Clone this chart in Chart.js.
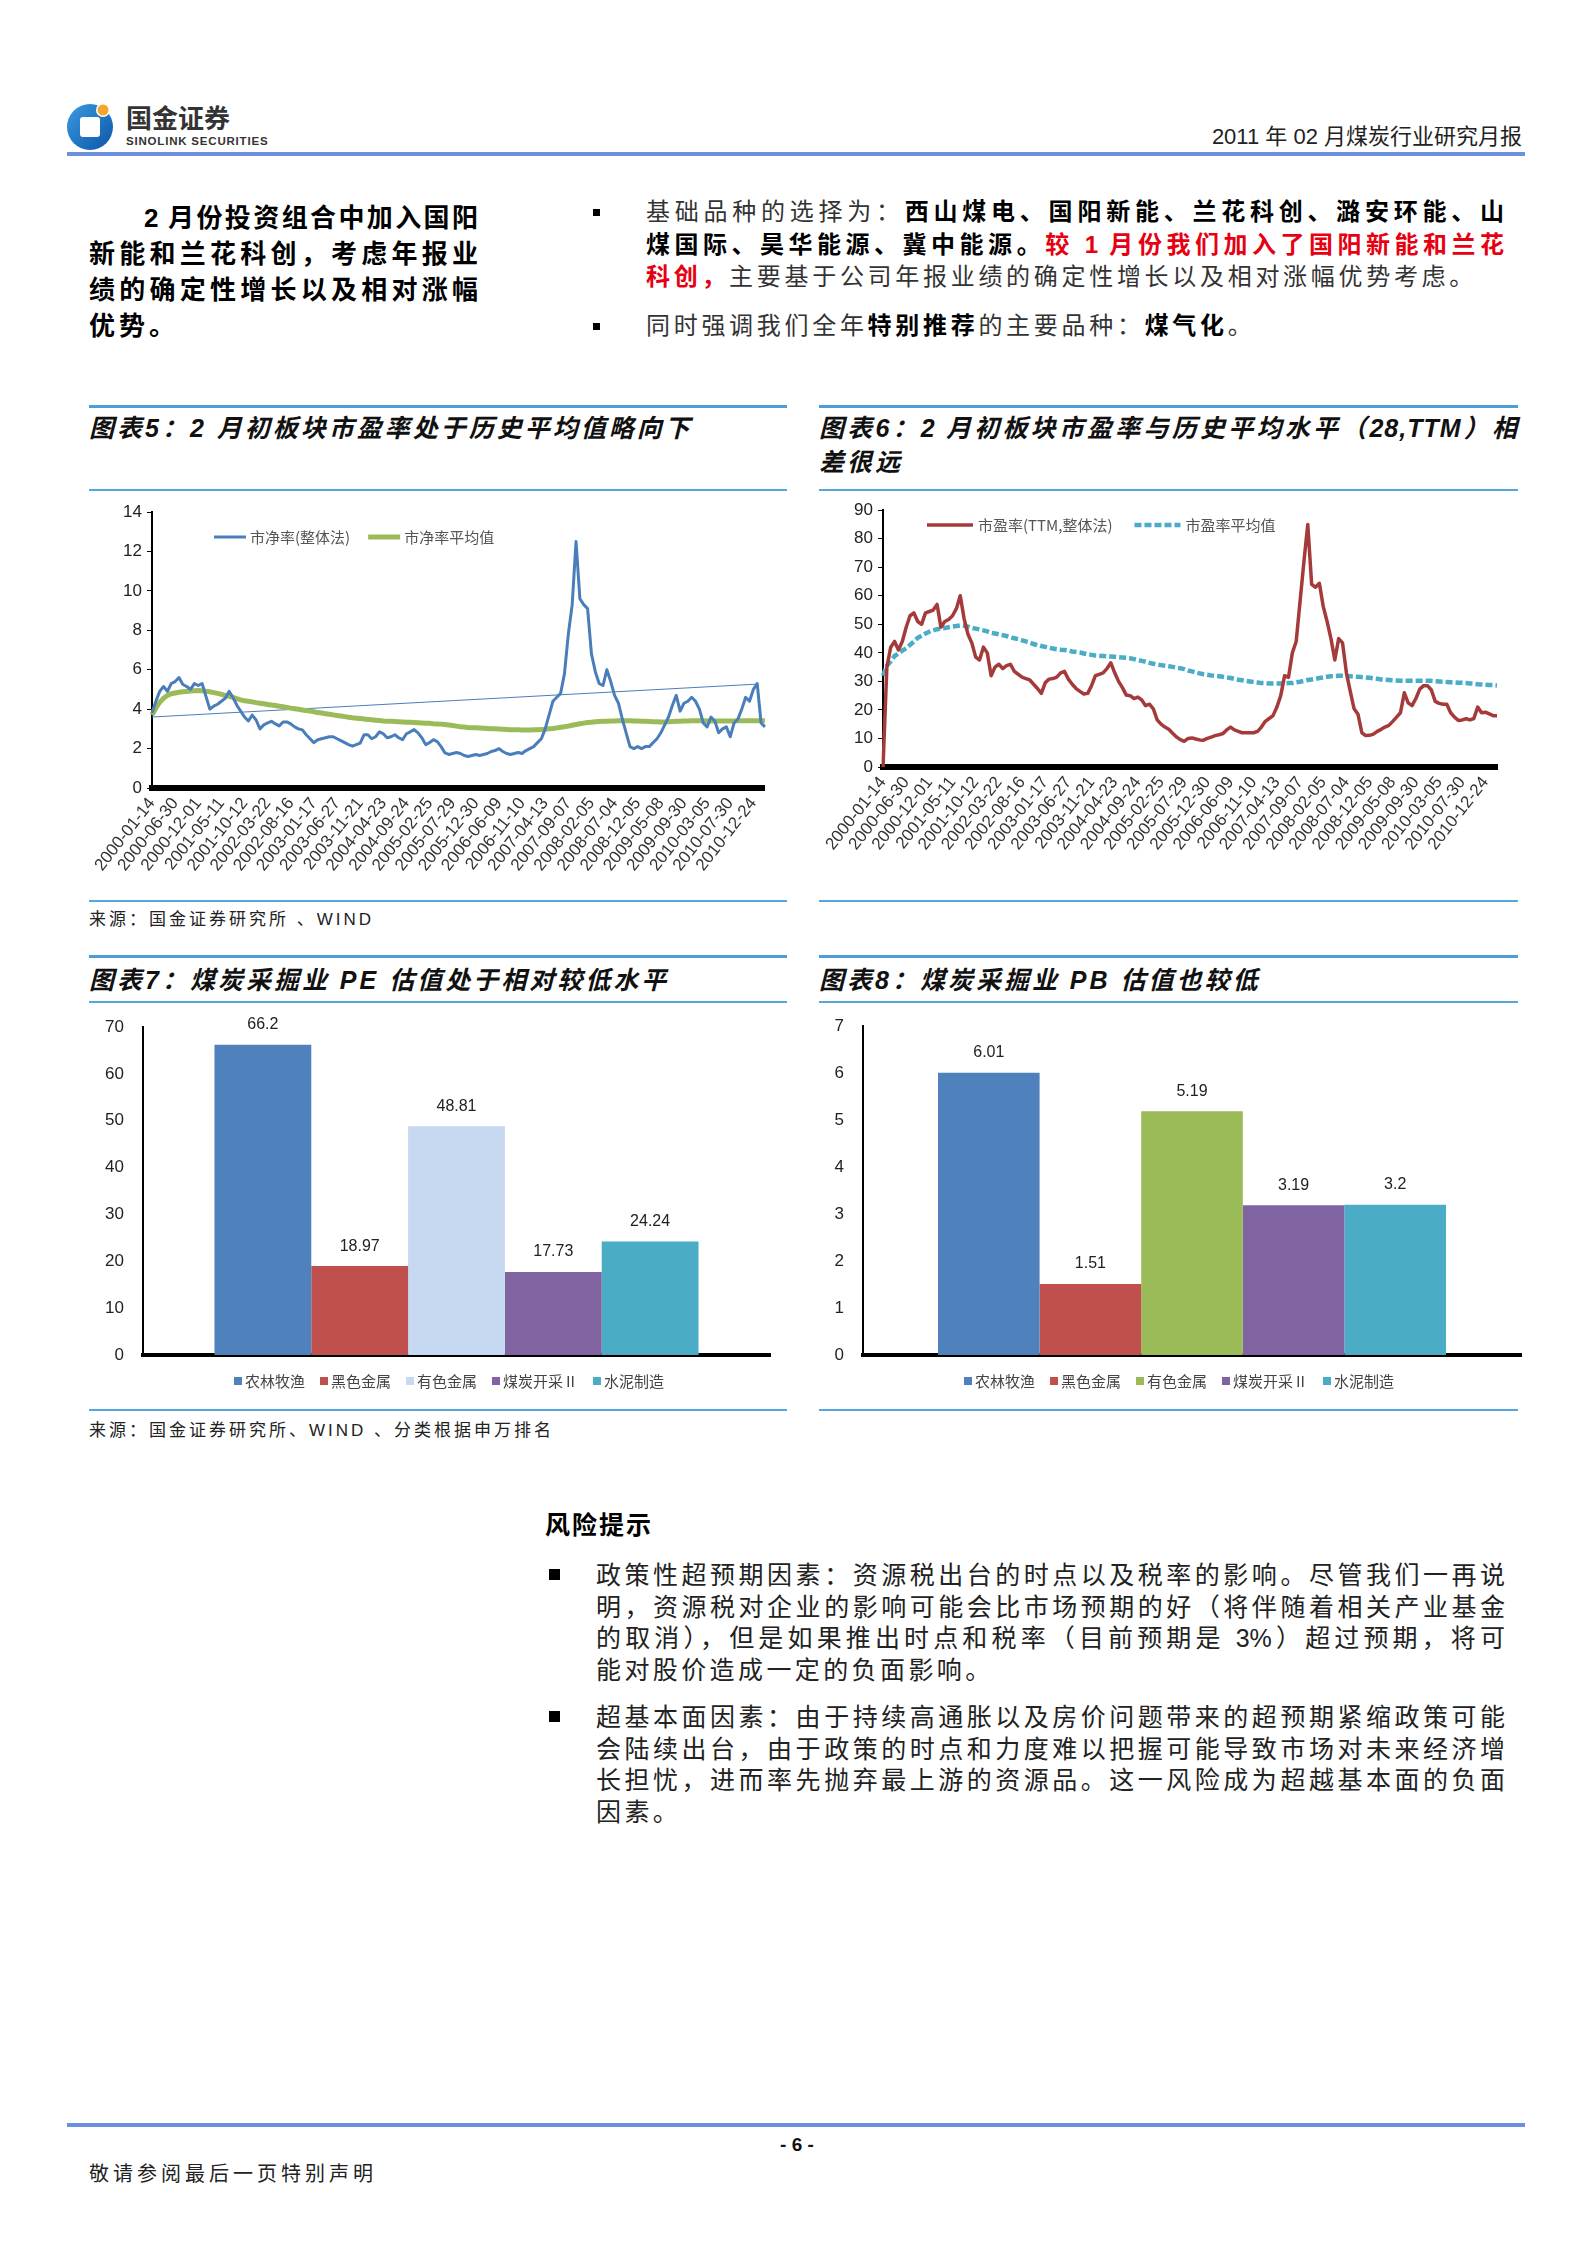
<!DOCTYPE html>
<html lang="zh-CN">
<head>
<meta charset="utf-8">
<title>2011年02月煤炭行业研究月报</title>
<script src="https://cdn.jsdelivr.net/npm/chart.js@4.4.1/dist/chart.umd.min.js"></script>
<style>
html, body { margin: 0; padding: 0; background: #fff; }
#page { position: relative; width: 1594px; height: 2252px; overflow: hidden; background: #fff;
  font-family: "Liberation Sans", "Noto Sans CJK SC", sans-serif; color: #111; }
.a { position: absolute; white-space: nowrap; }
.j { position: absolute; white-space: normal; text-align: justify; text-align-last: justify; }
.rule { position: absolute; background: #55a7de; height: 2px; }
.rule.top { height: 3px; background: #4a9fdb; }
.hrule { position: absolute; background: #6c8fe0; height: 4px; }
.sq { position: absolute; background: #000; }
.title { font-size: 25px; line-height: 34px; font-weight: 700; font-style: italic; letter-spacing: 3px; color: #111; }
.src { font-size: 17px; line-height: 24px; letter-spacing: 3px; color: #222; }
.lead { font-size: 26px; line-height: 36px; font-weight: 700; color: #000; }
.txt { font-size: 24px; line-height: 32px; color: #333; }
.txt b, .risk b { color: #000; font-weight: 700; }
.txt b.red { color: #e60012; }
.risk { font-size: 25px; line-height: 32px; color: #222; }
canvas { position: absolute; }
</style>
</head>
<body>
<div id="page">

  <!-- header -->
  <svg class="a" style="left:66px;top:99px" width="52" height="52" viewBox="0 0 52 52">
    <defs>
      <linearGradient id="lg" x1="0" y1="0" x2="1" y2="1">
        <stop offset="0" stop-color="#3a9be0"/>
        <stop offset="1" stop-color="#0d55a8"/>
      </linearGradient>
    </defs>
    <circle cx="24" cy="28" r="23" fill="url(#lg)"/>
    <rect x="14" y="18" width="20" height="20" rx="3" fill="#fff"/>
    <circle cx="37" cy="11" r="7" fill="#fff"/>
    <circle cx="37" cy="11" r="5.5" fill="#f4a62a"/>
  </svg>
  <div class="a" style="left:126px;top:100px;font:700 26px/34px 'Noto Sans CJK SC';color:#333;">国金证券</div>
  <div class="a" style="left:126px;top:133px;font:700 11.5px/16px 'Liberation Sans';letter-spacing:0.8px;color:#333;">SINOLINK SECURITIES</div>
  <div class="a" style="right:72px;top:122px;font-size:22px;line-height:30px;color:#222;">2011 年 02 月煤炭行业研究月报</div>
  <div class="hrule" style="left:67px;top:152px;width:1458px;"></div>

  <!-- lead paragraph -->
  <div class="j lead" style="left:144px;top:200px;width:334px;">2 月份投资组合中加入国阳</div>
  <div class="j lead" style="left:89px;top:236px;width:389px;">新能和兰花科创，考虑年报业</div>
  <div class="j lead" style="left:89px;top:272px;width:389px;">绩的确定性增长以及相对涨幅</div>
  <div class="a lead" style="left:89px;top:308px;letter-spacing:4px;">优势。</div>

  <!-- right bullets -->
  <div class="sq" style="left:593px;top:209px;width:7px;height:7px;"></div>
  <div class="j txt" style="left:646px;top:196px;width:858px;">基础品种的选择为：<b>西山煤电、国阳新能、兰花科创、潞安环能、山</b></div>
  <div class="j txt" style="left:646px;top:229px;width:858px;"><b>煤国际、昊华能源、冀中能源。</b><b class="red">较 1 月份我们加入了国阳新能和兰花</b></div>
  <div class="a txt" style="left:646px;top:261px;letter-spacing:3.7px;"><b class="red">科创，</b>主要基于公司年报业绩的确定性增长以及相对涨幅优势考虑。</div>
  <div class="sq" style="left:593px;top:323px;width:7px;height:7px;"></div>
  <div class="a txt" style="left:646px;top:310px;letter-spacing:3.7px;">同时强调我们全年<b>特别推荐</b>的主要品种：<b>煤气化</b>。</div>

  <!-- chart 5 frame -->
  <div class="rule top" style="left:89px;top:405px;width:698px;"></div>
  <div class="a title" style="left:89px;top:411px;">图表5：2 月初板块市盈率处于历史平均值略向下</div>
  <div class="rule" style="left:89px;top:489px;width:698px;"></div>
  <canvas id="c5" width="698" height="400" style="left:89px;top:495px;"></canvas>
  <div class="rule" style="left:89px;top:900px;width:698px;"></div>
  <div class="a src" style="left:89px;top:908px;">来源：国金证券研究所 、WIND</div>

  <!-- chart 6 frame -->
  <div class="rule top" style="left:819px;top:405px;width:699px;"></div>
  <div class="j title" style="left:819px;top:411px;width:699px;letter-spacing:1px;">图表6：2 月初板块市盈率与历史平均水平（28,TTM）相</div>
  <div class="a title" style="left:819px;top:445px;">差很远</div>
  <div class="rule" style="left:819px;top:489px;width:699px;"></div>
  <canvas id="c6" width="703" height="400" style="left:819px;top:495px;"></canvas>
  <div class="rule" style="left:819px;top:900px;width:699px;"></div>

  <!-- chart 7 frame -->
  <div class="rule top" style="left:89px;top:955px;width:698px;"></div>
  <div class="a title" style="left:89px;top:963px;">图表7：煤炭采掘业 PE 估值处于相对较低水平</div>
  <div class="rule" style="left:89px;top:1001px;width:698px;"></div>
  <canvas id="c7" width="698" height="400" style="left:89px;top:1005px;"></canvas>
  <div class="rule" style="left:89px;top:1409px;width:698px;"></div>
  <div class="a src" style="left:89px;top:1419px;">来源：国金证券研究所、WIND 、分类根据申万排名</div>

  <!-- chart 8 frame -->
  <div class="rule top" style="left:819px;top:955px;width:699px;"></div>
  <div class="a title" style="left:819px;top:963px;">图表8：煤炭采掘业 PB 估值也较低</div>
  <div class="rule" style="left:819px;top:1001px;width:699px;"></div>
  <canvas id="c8" width="703" height="400" style="left:819px;top:1005px;"></canvas>
  <div class="rule" style="left:819px;top:1409px;width:699px;"></div>

  <!-- risk section -->
  <div class="a" style="left:545px;top:1508px;font-size:25px;line-height:34px;font-weight:700;letter-spacing:2px;color:#000;">风险提示</div>
  <div class="sq" style="left:549px;top:1569px;width:11px;height:11px;"></div>
  <div class="j risk" style="left:596px;top:1559px;width:909px;">政策性超预期因素：资源税出台的时点以及税率的影响。尽管我们一再说</div>
  <div class="j risk" style="left:596px;top:1591px;width:909px;">明，资源税对企业的影响可能会比市场预期的好（将伴随着相关产业基金</div>
  <div class="j risk" style="left:596px;top:1622px;width:909px;">的取消），但是如果推出时点和税率（目前预期是 3%）超过预期，将可</div>
  <div class="a risk" style="left:596px;top:1654px;letter-spacing:3.4px;">能对股价造成一定的负面影响。</div>
  <div class="sq" style="left:549px;top:1711px;width:11px;height:11px;"></div>
  <div class="j risk" style="left:596px;top:1701px;width:909px;">超基本面因素：由于持续高通胀以及房价问题带来的超预期紧缩政策可能</div>
  <div class="j risk" style="left:596px;top:1733px;width:909px;">会陆续出台，由于政策的时点和力度难以把握可能导致市场对未来经济增</div>
  <div class="j risk" style="left:596px;top:1764px;width:909px;">长担忧，进而率先抛弃最上游的资源品。这一风险成为超越基本面的负面</div>
  <div class="a risk" style="left:596px;top:1796px;letter-spacing:3.4px;">因素。</div>

  <!-- footer -->
  <div class="hrule" style="left:67px;top:2123px;width:1458px;"></div>
  <div class="a" style="left:0;width:1594px;text-align:center;top:2132px;font-size:19px;line-height:26px;font-weight:700;color:#111;">- 6 -</div>
  <div class="a" style="left:89px;top:2160px;font-size:20px;line-height:28px;letter-spacing:4px;color:#222;">敬请参阅最后一页特别声明</div>
</div>

<script>
// ---- data ----
// x-axis tick dates (one every 6 points)
var dateTicks = ['2000-01-14','2000-06-30','2000-12-01','2001-05-11','2001-10-12','2002-03-22','2002-08-16',
  '2003-01-17','2003-06-27','2003-11-21','2004-04-23','2004-09-24','2005-02-25','2005-07-29','2005-12-30',
  '2006-06-09','2006-11-10','2007-04-13','2007-09-07','2008-02-05','2008-07-04','2008-12-05','2009-05-08',
  '2009-09-30','2010-03-05','2010-07-30','2010-12-24'];
var TICK_EVERY = 6;

// chart 5: 市净率(整体法)
var pbWhole = [
  3.8, 4.4, 4.9, 5.15, 4.9, 5.3, 5.4, 5.6, 5.25, 5.15,
  5.0, 5.3, 5.2, 5.3, 4.65, 4.0, 4.15, 4.25, 4.4, 4.55,
  4.9, 4.6, 4.2, 3.9, 3.6, 3.4, 3.7, 3.45, 3.0, 3.2,
  3.3, 3.38, 3.25, 3.15, 3.35, 3.35, 3.25, 3.1, 3.0, 2.95,
  2.7, 2.5, 2.3, 2.45, 2.5, 2.55, 2.6, 2.6, 2.5, 2.4,
  2.3, 2.2, 2.12, 2.2, 2.28, 2.7, 2.7, 2.5, 2.6, 2.85,
  2.75, 2.55, 2.6, 2.7, 2.55, 2.45, 2.75, 2.85, 2.96, 2.8,
  2.55, 2.2, 2.3, 2.45, 2.35, 2.1, 1.78, 1.7, 1.75, 1.8,
  1.75, 1.65, 1.6, 1.65, 1.7, 1.65, 1.7, 1.75, 1.85, 1.9,
  2.0, 1.85, 1.75, 1.7, 1.75, 1.8, 1.75, 1.9, 2.0, 2.1,
  2.3, 2.5, 3.0, 3.7, 4.4, 4.6, 4.8, 5.8, 7.8, 9.3,
  12.5, 9.6, 9.3, 9.1, 6.8, 5.9, 5.3, 5.2, 6.0, 5.4,
  4.7, 4.3, 3.5, 2.8, 2.1, 2.0, 2.1, 2.0, 2.1, 2.1,
  2.3, 2.5, 2.8, 3.2, 3.6, 4.2, 4.7, 3.9, 4.3, 4.4,
  4.6, 4.4, 4.0, 3.3, 3.1, 3.6, 3.4, 2.8, 3.0, 3.1,
  2.6, 3.3, 3.5, 4.0, 4.6, 4.4, 5.0, 5.3, 3.3, 3.1
];
// chart 5: 市净率平均值
var pbAvg = [
  3.7, 4.05, 4.35, 4.55, 4.7, 4.78, 4.82, 4.86, 4.88, 4.9,
  4.92, 4.93, 4.94, 4.93, 4.91, 4.88, 4.84, 4.8, 4.75, 4.7,
  4.65, 4.6, 4.53, 4.47, 4.43, 4.4, 4.37, 4.33, 4.3, 4.27,
  4.24, 4.21, 4.18, 4.15, 4.12, 4.09, 4.05, 4.02, 3.99, 3.96,
  3.93, 3.9, 3.87, 3.83, 3.8, 3.77, 3.74, 3.71, 3.68, 3.65,
  3.62, 3.59, 3.56, 3.54, 3.52, 3.5, 3.48, 3.46, 3.44, 3.42,
  3.4, 3.39, 3.38, 3.37, 3.36, 3.35, 3.34, 3.33, 3.32, 3.31,
  3.3, 3.29, 3.28, 3.26, 3.25, 3.24, 3.22, 3.2, 3.17, 3.14,
  3.11, 3.09, 3.07, 3.06, 3.05, 3.04, 3.03, 3.02, 3.01, 3.0,
  2.99, 2.98, 2.97, 2.96, 2.95, 2.95, 2.94, 2.94, 2.94, 2.95,
  2.96, 2.97, 2.98, 3.0, 3.02, 3.05, 3.08, 3.11, 3.14, 3.18,
  3.22, 3.26, 3.29, 3.32, 3.34, 3.36, 3.37, 3.38, 3.39, 3.4,
  3.4, 3.41, 3.41, 3.41, 3.41, 3.4, 3.4, 3.39, 3.38, 3.37,
  3.36, 3.36, 3.35, 3.35, 3.36, 3.37, 3.38, 3.39, 3.4, 3.4,
  3.41, 3.41, 3.41, 3.41, 3.4, 3.4, 3.4, 3.4, 3.4, 3.4,
  3.4, 3.4, 3.41, 3.41, 3.41, 3.41, 3.41, 3.41, 3.41, 3.41
];
// chart 5: thin linear trend line (two end points)
var pbTrendIdx = [0, 157];
var pbTrendVal = [3.6, 5.27];

// chart 6: 市盈率(TTM,整体法)
var peTTM = [
  0, 35, 42, 44, 41, 44, 49, 53, 54, 51,
  50, 54, 54.5, 55, 57, 49, 51, 51.7, 53, 55.5,
  60, 52, 46.5, 43.5, 38.5, 37.5, 42, 40, 32, 35,
  36, 34.5, 35.5, 36, 33.5, 32.5, 31.5, 31, 30.5, 29,
  27.5, 25.8, 29.5, 30.8, 31, 31.5, 33, 33.5, 30.8, 29,
  27.5, 26.5, 25.6, 25.8, 28.5, 32, 32.5, 33, 34.5, 36.5,
  33, 30, 27.8, 25.2, 25, 24, 24.5, 23.5, 21.5, 22,
  20.4, 16.5, 15, 14, 13.2, 11.8, 10.5, 9.6, 9, 10,
  10.2, 9.8, 9.5, 9.4, 10, 10.5, 11, 11.3, 11.7, 13,
  14, 13, 12.5, 12, 12, 12, 12, 12.5, 14, 16,
  17, 18, 21, 25, 32, 31.4, 40, 44, 58, 72,
  85, 64, 63, 64.4, 56.3, 51, 45, 37.5, 45, 43.5,
  33, 26.5, 20.4, 18.5, 12, 11, 11.1, 11.5, 12.5, 13.2,
  14, 14.6, 16, 17.5, 19, 26, 22.5, 21.5, 24, 27.3,
  28.5, 28.5, 27, 23, 22.3, 22, 22, 19, 17.5, 16.3,
  16.5, 16.9, 16.5, 17, 21, 19, 19.2, 18.6, 18, 18
];
// chart 6: 市盈率平均值
var peAvg = [
  32, 35.5, 37, 38.9, 39.8, 40.8, 41.6, 42.8, 44, 45.3,
  46, 46.8, 47.4, 47.9, 48.3, 48.5, 48.7, 49, 49.2, 49.4,
  49.6, 49.5, 49.2, 48.7, 48.5, 48.2, 47.9, 47.5, 47, 46.8,
  46.5, 46.2, 45.9, 45.5, 45.1, 44.8, 44.4, 44, 43.6, 43.1,
  42.7, 42.4, 42.1, 41.8, 41.5, 41.3, 41.1, 41, 40.8, 40.5,
  40.3, 40.1, 39.8, 39.5, 39.3, 39.1, 39, 38.9, 38.8, 38.7,
  38.6, 38.5, 38.4, 38.3, 38.1, 37.8, 37.5, 37.2, 36.9, 36.5,
  36.2, 35.9, 35.7, 35.5, 35.3, 35.1, 34.8, 34.6, 34.3, 33.8,
  33.5, 33.1, 32.8, 32.5, 32.3, 32.1, 32, 31.8, 31.6, 31.4,
  31.2, 30.9, 30.6, 30.4, 30.2, 30, 29.8, 29.6, 29.4, 29.4,
  29.3, 29.3, 29.3, 29.3, 29.3, 29.4, 29.4, 29.7, 29.9, 30.2,
  30.5, 30.7, 30.9, 31.2, 31.4, 31.6, 31.8, 31.9, 32, 32,
  31.9, 31.8, 31.7, 31.6, 31.5, 31.4, 31.3, 31.1, 30.9, 30.7,
  30.6, 30.5, 30.4, 30.3, 30.2, 30.2, 30.2, 30.2, 30.2, 30.2,
  30.2, 30.2, 30.2, 30.1, 30, 29.9, 29.8, 29.7, 29.6, 29.5,
  29.5, 29.4, 29.3, 29.2, 29, 28.9, 28.8, 28.7, 28.7, 28.6
];

// charts 7 and 8
var barCategories = ['农林牧渔', '黑色金属', '有色金属', '煤炭开采Ⅱ', '水泥制造'];
var peValues = [66.2, 18.97, 48.81, 17.73, 24.24];
var pbValues = [6.01, 1.51, 5.19, 3.19, 3.2];

// ---- styling ----
var peColors = ['#4f81bd', '#c0504d', '#c6d9f1', '#8064a2', '#4bacc6'];
var pbColors = ['#4f81bd', '#c0504d', '#9bbb59', '#8064a2', '#4bacc6'];
var CJK = '"Noto Sans CJK SC", sans-serif';

Chart.defaults.font.family = '"Liberation Sans", "Noto Sans CJK SC", sans-serif';
Chart.defaults.color = '#222';

// category labels: only every TICK_EVERY-th point carries a date
var axisLabels = pbWhole.map(function(v, i) {
  return i % TICK_EVERY === 0 ? dateTicks[i / TICK_EVERY] : '';
});
var pbTrend = pbWhole.map(function() { return null; });
pbTrendIdx.forEach(function(idx, k) { pbTrend[idx] = pbTrendVal[k]; });

// one-row legend drawn at a fixed spot (x = first marker, y = row centre)
var rowLegend = {
  id: 'rowLegend',
  afterDraw: function(chart, args, o) {
    var ctx = chart.ctx, x = o.x, y = o.y;
    ctx.save();
    ctx.font = o.fs + 'px ' + CJK;
    ctx.textBaseline = 'middle';
    ctx.textAlign = 'left';
    chart.data.datasets.forEach(function(ds) {
      if (ds.noLegend) return;
      if (o.kind === 'line') {
        ctx.strokeStyle = ds.borderColor;
        ctx.lineWidth = ds.borderWidth;
        ctx.setLineDash(ds.borderDash || []);
        ctx.beginPath();
        ctx.moveTo(x, y);
        ctx.lineTo(x + o.sample, y);
        ctx.stroke();
        ctx.setLineDash([]);
      } else {
        ctx.fillStyle = ds.backgroundColor;
        ctx.fillRect(x, y - o.sample / 2, o.sample, o.sample);
      }
      x += o.sample + o.gap;
      ctx.fillStyle = o.color;
      ctx.fillText(ds.label, x, y);
      x += ctx.measureText(ds.label).width + o.pad;
    });
    ctx.restore();
  }
};

// value labels above the bars
var barValueLabels = {
  id: 'barValueLabels',
  afterDatasetsDraw: function(chart) {
    var ctx = chart.ctx;
    ctx.save();
    ctx.font = '16px "Liberation Sans", Arial, sans-serif';
    ctx.fillStyle = '#222';
    ctx.textAlign = 'center';
    ctx.textBaseline = 'middle';
    chart.data.datasets.forEach(function(ds, i) {
      chart.getDatasetMeta(i).data.forEach(function(bar, j) {
        ctx.fillText(String(ds.data[j]), bar.x, bar.y - 20);
      });
    });
    ctx.restore();
  }
};

function fixW(w) { return function(s) { s.width = w; }; }
function fixH(h) { return function(s) { s.height = h; }; }

function timeAxis(h) {
  return {
    grid: { display: false, drawTicks: false },
    border: { color: '#000', width: 6 },
    ticks: { autoSkip: false, minRotation: 52, maxRotation: 52, padding: 6, color: '#333', font: { size: 17 } },
    afterFit: fixH(h)
  };
}
function valueAxis(max, step, w, withTicks) {
  return {
    min: 0, max: max,
    ticks: { stepSize: step, padding: withTicks ? 5 : 11, color: '#222', font: { size: 17 } },
    grid: withTicks ? { drawOnChartArea: false, tickLength: 5, color: '#000' } : { display: false },
    border: { color: '#000', width: 2 },
    afterFit: fixW(w)
  };
}

// Chart 5
new Chart(document.getElementById('c5'), {
  type: 'line',
  data: {
    labels: axisLabels,
    datasets: [
      { label: '市净率(整体法)', data: pbWhole, borderColor: '#4a7ebb', borderWidth: 3, pointRadius: 0, borderJoinStyle: 'round' },
      { label: '市净率平均值', data: pbAvg, borderColor: '#9bbb59', borderWidth: 5, pointRadius: 0 },
      { label: 'trend', data: pbTrend, borderColor: '#4a7ebb', borderWidth: 1, pointRadius: 0, spanGaps: true, noLegend: true }
    ]
  },
  options: {
    responsive: false,
    animation: false,
    events: [],
    layout: { padding: { top: 17, right: 20 } },
    plugins: {
      legend: { display: false },
      tooltip: { enabled: false },
      rowLegend: { kind: 'line', x: 125, y: 42, fs: 15, sample: 32, gap: 4, pad: 18, color: '#555' }
    },
    scales: { x: timeAxis(107), y: valueAxis(14, 2, 63, true) }
  },
  plugins: [rowLegend]
});

// Chart 6
new Chart(document.getElementById('c6'), {
  type: 'line',
  data: {
    labels: axisLabels,
    datasets: [
      { label: '市盈率(TTM,整体法)', data: peTTM, borderColor: '#a53a3a', borderWidth: 3.5, pointRadius: 0, borderJoinStyle: 'round' },
      { label: '市盈率平均值', data: peAvg, borderColor: '#4bacc6', borderWidth: 4.5, borderDash: [7, 3], pointRadius: 0 }
    ]
  },
  options: {
    responsive: false,
    animation: false,
    events: [],
    layout: { padding: { top: 13, right: 25 } },
    plugins: {
      legend: { display: false },
      tooltip: { enabled: false },
      rowLegend: { kind: 'line', x: 108, y: 30, fs: 15, sample: 46, gap: 5, pad: 22, color: '#555' }
    },
    scales: { x: timeAxis(128), y: valueAxis(90, 10, 64, true) }
  },
  plugins: [rowLegend]
});

// Charts 7 and 8
function barChart(id, values, colors, max, yWidth, padRight, padTop) {
  return new Chart(document.getElementById(id), {
    type: 'bar',
    data: {
      labels: [''],
      datasets: barCategories.map(function(name, i) {
        return { label: name, data: [values[i]], backgroundColor: colors[i], categoryPercentage: 0.772, barPercentage: 1 };
      })
    },
    options: {
      responsive: false,
      animation: false,
      events: [],
      layout: { padding: { top: padTop, right: padRight } },
      plugins: {
        legend: { display: false },
        tooltip: { enabled: false },
        rowLegend: { kind: 'box', x: 145, y: 376, fs: 15, sample: 8, gap: 3, pad: 15, color: '#444' }
      },
      scales: {
        x: { grid: { display: false, drawTicks: false }, ticks: { display: false }, border: { color: '#000', width: 4 }, afterFit: fixH(50) },
        y: valueAxis(max, max / 7, yWidth, false)
      }
    },
    plugins: [rowLegend, barValueLabels]
  });
}
barChart('c7', peValues, peColors, 70, 54, 17, 22);
barChart('c8', pbValues, pbColors, 7, 44, 1, 21);
</script>
</body>
</html>
